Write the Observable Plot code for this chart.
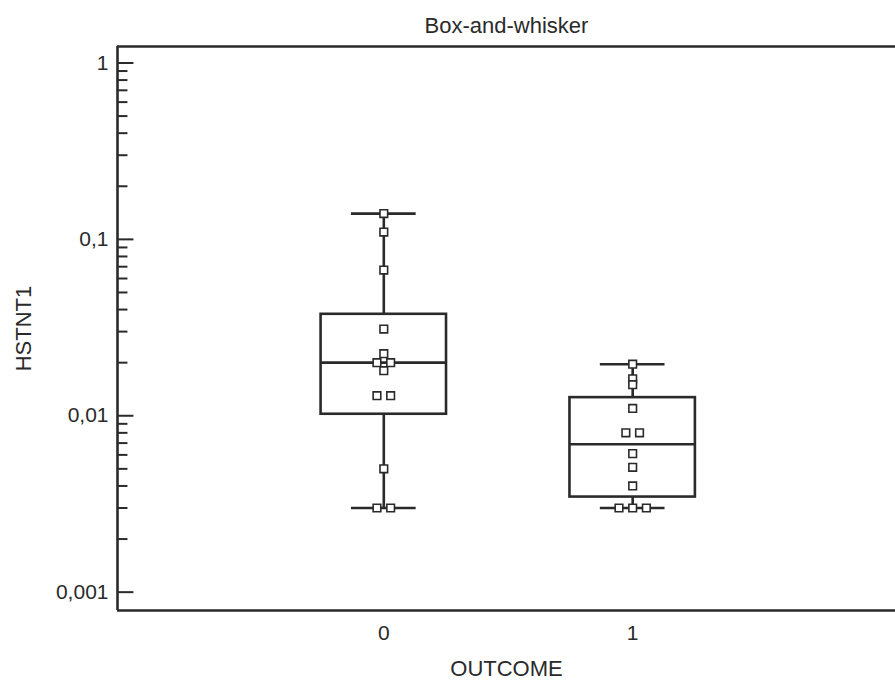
<!DOCTYPE html>
<html><head><meta charset="utf-8">
<script src="https://cdn.jsdelivr.net/npm/d3@7"></script>
<script src="https://cdn.jsdelivr.net/npm/@observablehq/plot@0.6"></script>
<style>body{margin:0;background:#fff;}</style>
</head><body><div id="chart"></div>
<script>
// ---- data ----
const groups = [0, 1];
const values0 = [0.14, 0.11, 0.067, 0.031, 0.0225, 0.020, 0.020, 0.018, 0.013, 0.013, 0.005, 0.003, 0.003];
const values1 = [0.0196, 0.0162, 0.015, 0.011, 0.008, 0.008, 0.0061, 0.0051, 0.004, 0.003, 0.003, 0.003];
const q1 = [0.0102, 0.00346];
const medians = [0.020, 0.0069];
const q3 = [0.0376, 0.01267];
const whiskerLow = [0.003, 0.003];
const whiskerHigh = [0.14, 0.0196];
const majorTicks = [1, 0.1, 0.01, 0.001];
const tickLabels = ["1", "0,1", "0,01", "0,001"];
const titleText = "Box-and-whisker";
const xLabel = "OUTCOME";
const yLabel = "HSTNT1";

// ---- derived tables ----
const minorTicks = [];
[0.001, 0.01, 0.1].forEach(dec => { for (let k = 2; k <= 9; k++) minorTicks.push(k * dec); });

const stats = groups.map((g, i) => ({g, q1: q1[i], med: medians[i], q3: q3[i], lo: whiskerLow[i], hi: whiskerHigh[i]}));

const points = [];
[values0, values1].forEach((vals, gi) => {
  const counts = d3.rollup(vals, v => v.length, v => v);
  const seen = new Map();
  vals.forEach(v => {
    const n = counts.get(v), i = seen.get(v) || 0;
    seen.set(v, i + 1);
    points.push({group: groups[gi], value: v, offset: i - (n - 1) / 2});
  });
});

const X0 = -1.07, X1 = 2.056;
const Y0 = 0.000787, Y1 = 1.24;
const ink = "#2a2a2a";
const BOX = 0.252, CAP = 0.13, DODGE = 0.055;

const chart = Plot.plot({
  width: 895, height: 682,
  marginTop: 46, marginBottom: 72, marginLeft: 117, marginRight: 0,
  style: {fontFamily: "'Liberation Sans', Arial, sans-serif", fontSize: "21px", color: ink, background: "#fff"},
  x: {type: "linear", domain: [X0, X1]},
  y: {type: "log", domain: [Y0, Y1]},
  marks: [
    Plot.axisX({ticks: groups, tickSize: 0, tickPadding: 15, tickFormat: d => String(d), label: null}),
    Plot.axisY({ticks: majorTicks, tickSize: 0, tickPadding: 9, tickFormat: d => tickLabels[majorTicks.indexOf(d)] ?? "", label: null}),
    Plot.ruleY(minorTicks, {y: d => d, x1: () => X0, x2: () => X0 + 0.042, stroke: ink, strokeWidth: 2}),
    Plot.ruleY(majorTicks, {y: d => d, x1: () => X0, x2: () => X0 + 0.066, stroke: ink, strokeWidth: 2}),
    // whiskers
    Plot.ruleX(stats, {x: "g", y1: "lo", y2: "hi", stroke: ink, strokeWidth: 2.6}),
    Plot.ruleY(stats, {y: "hi", x1: d => d.g - CAP, x2: d => d.g + CAP, stroke: ink, strokeWidth: 2.6}),
    Plot.ruleY(stats, {y: "lo", x1: d => d.g - CAP, x2: d => d.g + CAP, stroke: ink, strokeWidth: 2.6}),
    // box
    Plot.rect(stats, {x1: d => d.g - BOX, x2: d => d.g + BOX, y1: "q1", y2: "q3", fill: "white", stroke: ink, strokeWidth: 2.6}),
    Plot.ruleY(stats, {y: "med", x1: d => d.g - BOX, x2: d => d.g + BOX, stroke: ink, strokeWidth: 2.6}),
    // points
    Plot.dot(points, {x: d => d.group + d.offset * DODGE, y: "value", symbol: "square", r: 4.3, fill: "white", stroke: ink, strokeWidth: 1.6}),
    // frame (left, top, bottom)
    Plot.ruleX([X0], {stroke: ink, strokeWidth: 2.6}),
    Plot.ruleY([Y0, Y1], {stroke: ink, strokeWidth: 2.6}),
    // texts
    Plot.text([titleText], {text: d => d, frameAnchor: "top", lineAnchor: "bottom", dy: -14, fontSize: 22}),
    Plot.text([xLabel], {text: d => d, frameAnchor: "bottom", lineAnchor: "top", dy: 50, fontSize: 22}),
    Plot.text([yLabel], {text: d => d, frameAnchor: "left", textAnchor: "middle", rotate: -90, dx: -94, fontSize: 22})
  ]
});
document.getElementById("chart").appendChild(chart);
</script>
</body></html>
